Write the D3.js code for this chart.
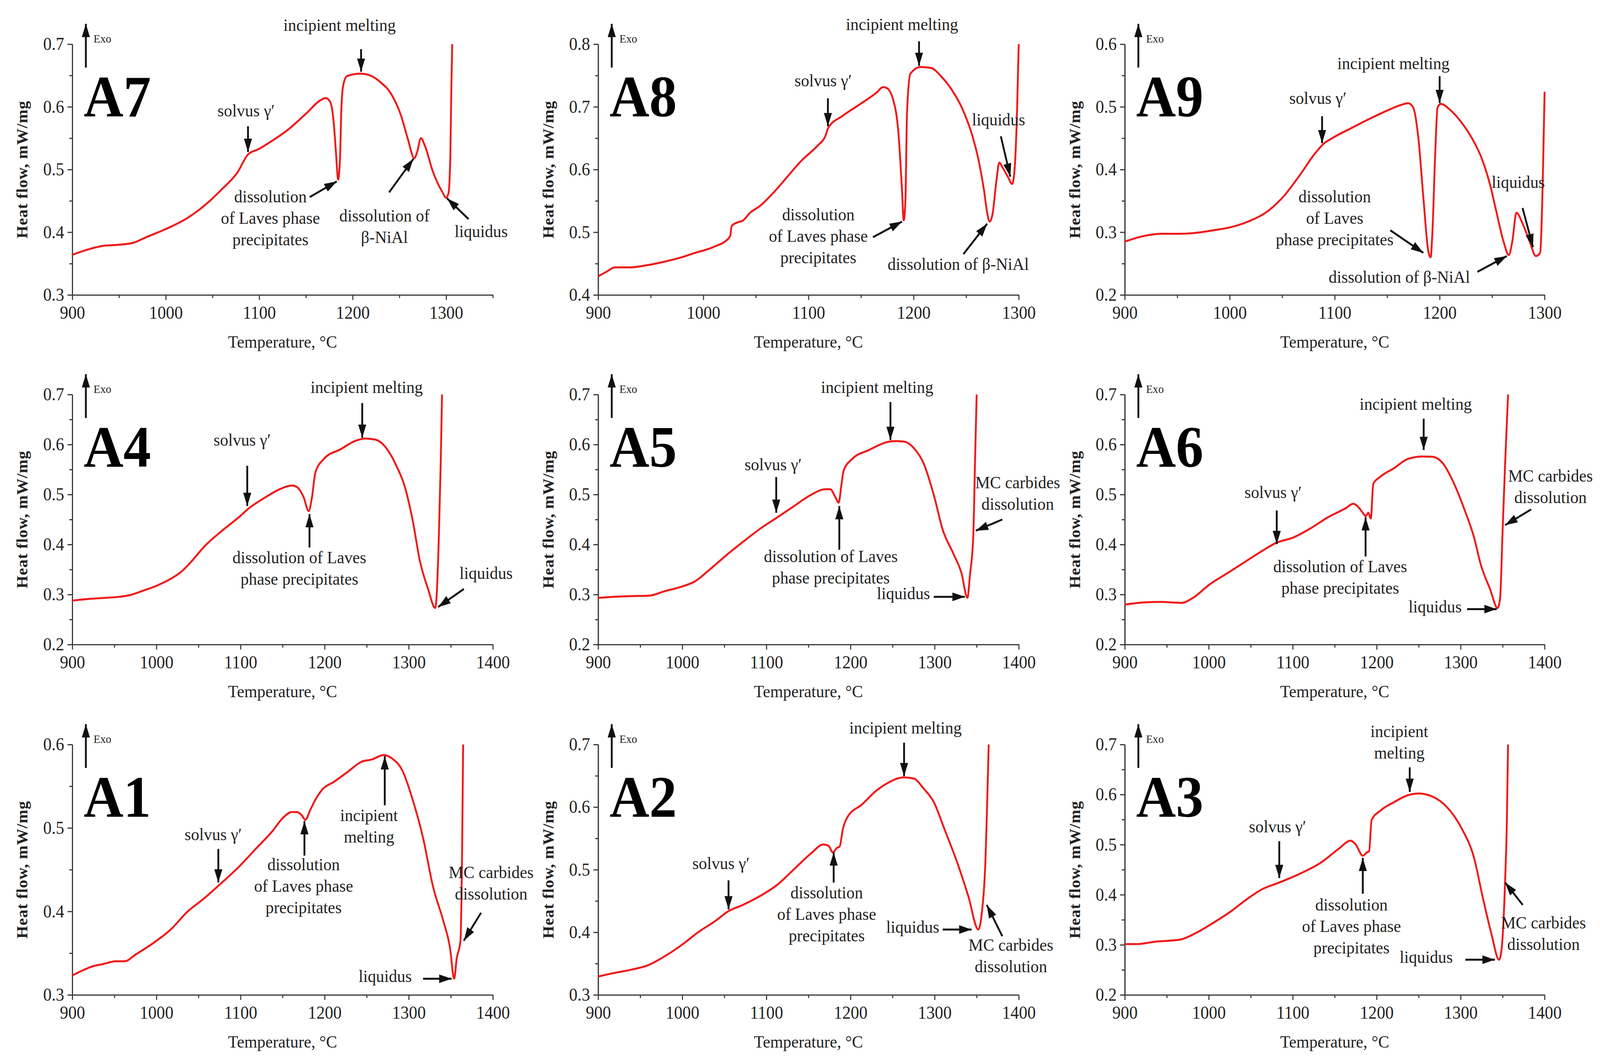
<!DOCTYPE html>
<html><head><meta charset="utf-8">
<script src="https://cdn.jsdelivr.net/npm/d3@7"></script>
<style>html,body{margin:0;padding:0;background:#fff;overflow:hidden;width:100%;height:100%}
#c{display:block;width:100vw;height:100vh}</style>
</head><body>
<svg id="c" viewBox="0 0 4360 2724" preserveAspectRatio="none" xmlns="http://www.w3.org/2000/svg"></svg>
<script>
// ---------- DATA (temperature °C, heat flow mW/mg) ----------
const A7_curve = [[900,0.364],[917,0.3725],[932,0.378],[950,0.380],[965,0.383],[979,0.392],[1000,0.405],[1023,0.4225],[1041,0.442],[1059,0.467],[1077,0.496],[1088,0.524],[1100,0.533],[1114,0.546],[1132,0.565],[1150,0.589],[1165,0.610],[1171,0.614],[1176,0.608],[1180,0.57],[1182,0.53],[1184.5,0.484],[1186.5,0.52],[1188,0.60],[1190,0.635],[1194,0.649],[1208,0.653],[1217,0.651],[1230,0.639],[1241,0.621],[1252,0.585],[1259,0.549],[1266,0.518],[1269,0.528],[1273,0.550],[1277,0.539],[1286,0.496],[1296,0.464],[1300,0.455],[1302.5,0.462],[1304.5,0.52],[1305.5,0.62],[1306.5,0.70]];
const A8_curve = [[900,0.4296],[908,0.437],[916,0.444],[921,0.444],[931,0.444],[947,0.4475],[963,0.453],[979.5,0.460],[996,0.469],[1000,0.4707],[1012,0.478],[1022,0.487],[1025.6,0.494],[1027,0.510],[1031.5,0.515],[1038,0.519],[1044.5,0.531],[1054,0.542],[1067,0.5636],[1080,0.5886],[1093,0.6136],[1109,0.6386],[1116,0.653],[1119,0.667],[1132,0.685],[1148,0.703],[1164.6,0.7225],[1171,0.7314],[1174.4,0.730],[1180.8,0.710],[1185.7,0.656],[1189,0.567],[1190.6,0.519],[1192.2,0.549],[1193.8,0.692],[1197,0.753],[1206.8,0.7636],[1216.6,0.762],[1226,0.749],[1236,0.728],[1245.8,0.699],[1255.5,0.656],[1262,0.6136],[1267,0.567],[1270,0.531],[1272.4,0.517],[1275,0.528],[1279,0.585],[1281.5,0.611],[1284.7,0.603],[1289.6,0.5886],[1293.8,0.577],[1296,0.599],[1298.4,0.692],[1300,0.80]];
const A9_curve = [[900,0.285],[918.2,0.294],[934.8,0.2975],[951.3,0.2975],[967.9,0.299],[984.4,0.303],[1001,0.308],[1017.5,0.317],[1034.1,0.331],[1050.7,0.356],[1067.2,0.392],[1080.5,0.424],[1088.7,0.440],[1098.7,0.451],[1116.9,0.467],[1133.4,0.481],[1150,0.494],[1163.2,0.503],[1169.9,0.5057],[1174.8,0.499],[1179.8,0.449],[1184.8,0.349],[1189.1,0.2707],[1191.4,0.260],[1193,0.2957],[1195.7,0.4207],[1198,0.499],[1201.3,0.5046],[1209.6,0.4957],[1219.5,0.478],[1231.1,0.449],[1239.4,0.4207],[1247.7,0.378],[1254.3,0.331],[1260.9,0.285],[1265.9,0.2636],[1269.2,0.285],[1273.2,0.331],[1279.1,0.3136],[1285.8,0.285],[1291.7,0.262],[1295.7,0.267],[1298.3,0.385],[1300,0.524]];
const A4_curve = [[900,0.2878],[919,0.291],[936,0.293],[956,0.2954],[968,0.2986],[984,0.3075],[1000.6,0.3178],[1017,0.3313],[1029,0.3447],[1041,0.3649],[1057,0.396],[1078,0.4276],[1098,0.4545],[1110,0.4724],[1130,0.4948],[1146.5,0.5105],[1161,0.518],[1167,0.515],[1175,0.4948],[1181,0.467],[1185,0.4948],[1189,0.544],[1199,0.571],[1219.5,0.591],[1236,0.607],[1248,0.612],[1260,0.610],[1272,0.5956],[1284,0.562],[1296.6,0.508],[1305,0.4455],[1313,0.369],[1323,0.311],[1331.5,0.273],[1333,0.293],[1336,0.4276],[1338,0.562],[1339.6,0.70]];
const A5_curve = [[900,0.2932],[918,0.2954],[938.5,0.2968],[961,0.2977],[979,0.3066],[999,0.3156],[1015.6,0.3268],[1032,0.349],[1052,0.378],[1072,0.405],[1093,0.432],[1111,0.452],[1133,0.4769],[1153,0.4993],[1170,0.5105],[1176,0.5105],[1182,0.4948],[1186,0.4836],[1189,0.517],[1192,0.5486],[1202,0.571],[1222,0.589],[1243,0.6046],[1251,0.6068],[1263,0.606],[1275,0.5934],[1287,0.562],[1299,0.4993],[1310,0.4276],[1322,0.3828],[1332,0.3425],[1339,0.2935],[1342,0.338],[1346,0.4186],[1348,0.562],[1350,0.70]];
const A6_curve = [[900,0.2797],[923,0.2842],[943,0.2851],[968,0.2833],[981,0.293],[1001,0.320],[1022,0.3425],[1043,0.365],[1063.5,0.387],[1080,0.403],[1101,0.4142],[1121,0.432],[1142,0.4545],[1163,0.4724],[1172,0.4814],[1177,0.4769],[1183.5,0.4634],[1187,0.4567],[1190,0.4634],[1193,0.452],[1196,0.5217],[1204,0.535],[1221,0.553],[1237,0.571],[1254,0.576],[1266,0.5755],[1279,0.562],[1291,0.526],[1304,0.4724],[1316,0.414],[1324,0.360],[1335,0.311],[1344,0.273],[1347,0.293],[1350,0.4276],[1353,0.562],[1356.5,0.70]];
const A1_curve = [[900,0.3233],[911,0.3287],[923.5,0.334],[935.7,0.3367],[952,0.3402],[962,0.3402],[976,0.3488],[996.5,0.3622],[1017,0.3783],[1037,0.3997],[1057,0.4158],[1073.6,0.4306],[1098,0.4534],[1118,0.4748],[1138,0.4962],[1150.6,0.5123],[1161,0.519],[1167,0.519],[1173,0.515],[1177,0.5097],[1183,0.5217],[1189,0.5338],[1197,0.5458],[1211,0.5552],[1227.6,0.5673],[1244,0.5794],[1256,0.582],[1270,0.5874],[1280,0.5834],[1292.5,0.5686],[1304.7,0.5338],[1317,0.4882],[1329,0.4292],[1341,0.389],[1349,0.3568],[1354,0.3195],[1357,0.3434],[1361.5,0.3649],[1363.5,0.4775],[1364.7,0.60]];
const A2_curve = [[900,0.3293],[918,0.3347],[938.5,0.340],[959,0.3472],[979,0.3615],[999,0.3794],[1019.6,0.4008],[1040,0.4187],[1054,0.433],[1072,0.4437],[1092.6,0.458],[1113,0.4759],[1133,0.5009],[1153,0.5259],[1167.6,0.5402],[1173.7,0.5384],[1179,0.5277],[1184,0.5349],[1187,0.5367],[1191,0.5652],[1196,0.5831],[1214,0.6046],[1230.5,0.626],[1246.7,0.6403],[1263,0.6475],[1275,0.6457],[1287,0.6296],[1299,0.6081],[1311.6,0.5652],[1327.8,0.508],[1340,0.458],[1352,0.4045],[1356,0.4294],[1360,0.5009],[1364.3,0.70]];
const A3_curve = [[900,0.3014],[914.5,0.3014],[935,0.3059],[952,0.3081],[966,0.3104],[985,0.3238],[1005.5,0.3439],[1026,0.3662],[1047,0.393],[1063.5,0.4109],[1084,0.4243],[1109,0.4422],[1134,0.4645],[1154.5,0.4913],[1169,0.5079],[1175,0.5003],[1183.5,0.4779],[1188.5,0.4846],[1191,0.4869],[1194,0.5494],[1204,0.5673],[1221,0.5852],[1237,0.5986],[1250,0.6022],[1266,0.5963],[1283,0.5762],[1301.5,0.5315],[1316,0.4735],[1326,0.3975],[1336.7,0.3215],[1345.8,0.2702],[1349,0.2947],[1353,0.4288],[1355,0.5405],[1356.5,0.70]];

// tick labels
const xTicks_to1300 = [900,1000,1100,1200,1300];
const xTicks_to1400 = [900,1000,1100,1200,1300,1400];
const yTicks_03_07 = [0.3,0.4,0.5,0.6,0.7];
const yTicks_04_08 = [0.4,0.5,0.6,0.7,0.8];
const yTicks_02_06 = [0.2,0.3,0.4,0.5,0.6];
const yTicks_02_07 = [0.2,0.3,0.4,0.5,0.6,0.7];
const yTicks_03_06 = [0.3,0.4,0.5,0.6];

const panelNames = ["A7","A8","A9","A4","A5","A6","A1","A2","A3"];
const xLabel = "Temperature, °C";
const yLabel = "Heat flow, mW/mg";

// annotations: text lines, text anchor (T, HF), arrow from (T,HF) to (T,HF)
const A7_notes = [
  {lines:["incipient melting"], at:[1186,0.721], from:[1209,0.692], to:[1209,0.656]},
  {lines:["solvus γ′"], at:[1086,0.585], from:[1088,0.569], to:[1088,0.528]},
  {lines:["dissolution","of Laves phase","precipitates"], at:[1112,0.4475], from:[1154,0.456], to:[1183,0.481]},
  {lines:["dissolution of","β-NiAl"], at:[1234,0.417], from:[1239,0.4636], to:[1265,0.517]},
  {lines:["liquidus"], at:[1337.5,0.392], from:[1324,0.421], to:[1301,0.454]}
];
const A8_notes = [
  {lines:["incipient melting"], at:[1189,0.8225], from:[1205.2,0.8046], to:[1205.2,0.7654]},
  {lines:["solvus γ′"], at:[1114,0.733], from:[1118.5,0.7136], to:[1118.5,0.669]},
  {lines:["dissolution","of Laves phase","precipitates"], at:[1109.4,0.519], from:[1161.4,0.492], to:[1189,0.517]},
  {lines:["dissolution of β-NiAl"], at:[1242.5,0.440], from:[1247.4,0.465], to:[1270,0.5136]},
  {lines:["liquidus"], at:[1280.8,0.6707], from:[1283,0.653], to:[1292,0.5886]}
];
const A9_notes = [
  {lines:["incipient melting"], at:[1156,0.56], from:[1200,0.549], to:[1200,0.506]},
  {lines:["solvus γ′"], at:[1084,0.5046], from:[1088,0.485], to:[1088,0.442]},
  {lines:["dissolution","of Laves","phase precipitates"], at:[1100,0.3475], from:[1153,0.303], to:[1184.5,0.267]},
  {lines:["dissolution of β-NiAl"], at:[1161.6,0.219], from:[1236,0.2368], to:[1264,0.262]},
  {lines:["liquidus"], at:[1275,0.3707], from:[1279,0.3386], to:[1289,0.276]}
];
const A4_notes = [
  {lines:["incipient melting"], at:[1250,0.7031], from:[1244.7,0.683], to:[1244.7,0.6135]},
  {lines:["solvus γ′"], at:[1102,0.598], from:[1108,0.5575], to:[1108,0.477]},
  {lines:["dissolution of Laves","phase precipitates"], at:[1170,0.3626], from:[1182,0.394], to:[1182,0.461]},
  {lines:["liquidus"], at:[1392,0.331], from:[1365.5,0.311], to:[1335,0.275]}
];
const A5_notes = [
  {lines:["incipient melting"], at:[1231.7,0.7031], from:[1247.5,0.685], to:[1247.5,0.609]},
  {lines:["solvus γ′"], at:[1108,0.5486], from:[1111.7,0.535], to:[1111.7,0.4634]},
  {lines:["dissolution of Laves","phase precipitates"], at:[1176.6,0.3649], from:[1186.7,0.3895], to:[1186.7,0.4769]},
  {lines:["MC carbides","dissolution"], at:[1398.8,0.5127], from:[1380.5,0.45], to:[1349,0.4276]},
  {lines:["liquidus"], at:[1263,0.291], from:[1299,0.2954], to:[1336,0.2954]}
];
const A6_notes = [
  {lines:["incipient melting"], at:[1246.5,0.6695], from:[1256,0.6516], to:[1256,0.5889]},
  {lines:["solvus γ′"], at:[1076.7,0.4926], from:[1081,0.468], to:[1081,0.4007]},
  {lines:["dissolution of Laves","phase precipitates"], at:[1156.6,0.3447], from:[1186.8,0.376], to:[1186.8,0.4545]},
  {lines:["MC carbides","dissolution"], at:[1407,0.526], from:[1384,0.4702], to:[1353,0.4388]},
  {lines:["liquidus"], at:[1269.6,0.264], from:[1307.7,0.2708], to:[1343,0.2708]}
];
const A1_notes = [
  {lines:["solvus γ′"], at:[1067.5,0.4855], from:[1073.6,0.4748], to:[1073.6,0.4346]},
  {lines:["dissolution","of Laves phase","precipitates"], at:[1175,0.4493], from:[1176,0.4668], to:[1176,0.5083]},
  {lines:["incipient","melting"], at:[1252.8,0.5083], from:[1271.5,0.5271], to:[1271.5,0.586]},
  {lines:["MC carbides","dissolution"], at:[1398,0.44], from:[1386,0.3984], to:[1365.5,0.3649]},
  {lines:["liquidus"], at:[1272,0.3153], from:[1317,0.3193], to:[1351,0.3193]}
];
const A2_notes = [
  {lines:["incipient melting"], at:[1265.4,0.7172], from:[1263.7,0.7029], to:[1263.7,0.6493]},
  {lines:["solvus γ′"], at:[1046,0.5009], from:[1055,0.483], to:[1055,0.4365]},
  {lines:["dissolution","of Laves phase","precipitates"], at:[1171.7,0.4544], from:[1180,0.4794], to:[1180,0.5277]},
  {lines:["liquidus"], at:[1274,0.399], from:[1309.6,0.4044], to:[1344,0.4044]},
  {lines:["MC carbides","dissolution"], at:[1390.7,0.3704], from:[1380.5,0.3937], to:[1362,0.4437]}
];
const A3_notes = [
  {lines:["incipient","melting"], at:[1227,0.7148], from:[1239.4,0.6544], to:[1239.4,0.6053]},
  {lines:["solvus γ′"], at:[1082,0.5248], from:[1084,0.507], to:[1084,0.4332]},
  {lines:["dissolution","of Laves phase","precipitates"], at:[1170,0.3685], from:[1183.5,0.402], to:[1183.5,0.4735]},
  {lines:["MC carbides","dissolution"], at:[1398.7,0.3327], from:[1374,0.3796], to:[1353,0.4243]},
  {lines:["liquidus"], at:[1259,0.2643], from:[1305.6,0.2702], to:[1340.8,0.2702]}
];

// ---------- panel table built from the arrays ----------
const panels = [
  {name:panelNames[0], curve:A7_curve, notes:A7_notes, xMax:1350, xTicks:xTicks_to1300, yTicks:yTicks_03_07},
  {name:panelNames[1], curve:A8_curve, notes:A8_notes, xMax:1300, xTicks:xTicks_to1300, yTicks:yTicks_04_08},
  {name:panelNames[2], curve:A9_curve, notes:A9_notes, xMax:1300, xTicks:xTicks_to1300, yTicks:yTicks_02_06},
  {name:panelNames[3], curve:A4_curve, notes:A4_notes, xMax:1400, xTicks:xTicks_to1400, yTicks:yTicks_02_07},
  {name:panelNames[4], curve:A5_curve, notes:A5_notes, xMax:1400, xTicks:xTicks_to1400, yTicks:yTicks_02_07},
  {name:panelNames[5], curve:A6_curve, notes:A6_notes, xMax:1400, xTicks:xTicks_to1400, yTicks:yTicks_02_07},
  {name:panelNames[6], curve:A1_curve, notes:A1_notes, xMax:1400, xTicks:xTicks_to1400, yTicks:yTicks_03_06},
  {name:panelNames[7], curve:A2_curve, notes:A2_notes, xMax:1400, xTicks:xTicks_to1400, yTicks:yTicks_03_07},
  {name:panelNames[8], curve:A3_curve, notes:A3_notes, xMax:1400, xTicks:xTicks_to1400, yTicks:yTicks_02_07}
];

// ---------- layout & style ----------
const cols = [{x:197,w:1146},{x:1630,w:1146},{x:3065,w:1144}];
const rows = [{top:113,bottom:755},{top:1010,bottom:1650},{top:1906,bottom:2547}];
const FONT = '"Liberation Serif","Times New Roman",Times,serif';
const TXT = "#222";
const AX = "#3a3a3a";
const RED = "#f01818";

const svg = d3.select("#c");
svg.append("rect").attr("width",4360).attr("height",2724).attr("fill","#fff");
const defs = svg.append("defs");
defs.append("marker").attr("id","ah").attr("markerUnits","userSpaceOnUse")
  .attr("markerWidth",36).attr("markerHeight",24).attr("refX",34).attr("refY",11)
  .attr("orient","auto")
  .append("path").attr("d","M0,0L34,11L0,22Z").attr("fill","#111");

function styleAxis(sel){
  sel.attr("font-family",FONT).attr("font-size",46);
  sel.selectAll("path,line").attr("stroke",AX).attr("stroke-width",3);
  sel.selectAll("text").attr("fill",TXT);
}

panels.forEach((p,i)=>{
  const col = cols[i%3], row = rows[Math.floor(i/3)];
  const yDom = [p.yTicks[0], p.yTicks[p.yTicks.length-1]];
  const x = d3.scaleLinear().domain([900,p.xMax]).range([col.x, col.x+col.w]);
  const y = d3.scaleLinear().domain(yDom).range([row.bottom, row.top]);
  const g = svg.append("g");

  const xMinor = d3.range(950, p.xMax+1, 100);
  const yMinor = d3.range(yDom[0]+0.05, yDom[1], 0.1);

  g.append("g").attr("transform",`translate(0,${row.bottom})`)
    .call(d3.axisBottom(x).tickValues(xMinor).tickSize(8).tickSizeOuter(0).tickFormat(""))
    .call(styleAxis);
  g.append("g").attr("transform",`translate(0,${row.bottom})`)
    .call(d3.axisBottom(x).tickValues(p.xTicks).tickSize(13).tickSizeOuter(0).tickPadding(15).tickFormat(d3.format("d")))
    .call(styleAxis);
  g.append("g").attr("transform",`translate(${col.x},0)`)
    .call(d3.axisLeft(y).tickValues(yMinor).tickSize(8).tickSizeOuter(0).tickFormat(""))
    .call(styleAxis);
  g.append("g").attr("transform",`translate(${col.x},0)`)
    .call(d3.axisLeft(y).tickValues(p.yTicks).tickSize(13).tickSizeOuter(0).tickPadding(9).tickFormat(d3.format(".1f")))
    .call(styleAxis);

  // axis titles
  g.append("text").attr("x",col.x+col.w/2).attr("y",row.bottom+135)
    .attr("text-anchor","middle").attr("font-family",FONT).attr("font-size",45).attr("fill",TXT).text(xLabel);
  g.append("text").attr("transform",`translate(${col.x-136},${(row.top+row.bottom)/2}) rotate(-90)`)
    .attr("text-anchor","middle").attr("dominant-baseline","central")
    .attr("font-family",FONT).attr("font-size",42).attr("font-weight","bold").attr("letter-spacing",1).attr("fill",TXT).text(yLabel);

  // Exo arrow
  g.append("line").attr("x1",col.x+37).attr("y1",row.top+60).attr("x2",col.x+37).attr("y2",row.top-52)
    .attr("stroke","#111").attr("stroke-width",5).attr("marker-end","url(#ah)");
  g.append("text").attr("x",col.x+58).attr("y",row.top-4).attr("font-family",FONT).attr("font-size",30).attr("fill",TXT).text("Exo");

  // panel label
  g.append("text").attr("x",col.x+31).attr("y",row.top+185).attr("font-family",FONT)
    .attr("font-size",150).attr("font-weight","bold").attr("fill","#000").text(p.name);

  // curve
  const line = d3.line().x(d=>x(d[0])).y(d=>y(d[1])).curve(d3.curveMonotoneX);
  g.append("path").datum(p.curve).attr("d",line).attr("fill","none")
    .attr("stroke",RED).attr("stroke-width",5).attr("stroke-linejoin","round");

  // annotations
  p.notes.forEach(n=>{
    const t = g.append("text").attr("text-anchor","middle").attr("font-family",FONT)
      .attr("font-size",45).attr("fill",TXT);
    n.lines.forEach((s,k)=>{
      t.append("tspan").attr("x",x(n.at[0])).attr("y",y(n.at[1])+k*55).text(s);
    });
    g.append("line").attr("x1",x(n.from[0])).attr("y1",y(n.from[1]))
      .attr("x2",x(n.to[0])).attr("y2",y(n.to[1]))
      .attr("stroke","#111").attr("stroke-width",5).attr("marker-end","url(#ah)");
  });
});
</script>
</body></html>
